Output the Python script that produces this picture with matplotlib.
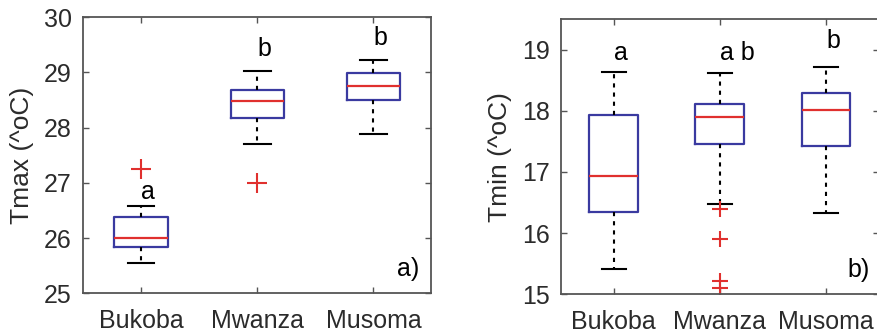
import matplotlib
matplotlib.use("Agg")
import matplotlib.pyplot as plt

plt.rcParams['font.family'] = ['Liberation Sans', 'DejaVu Sans']

stations = ["Bukoba", "Mwanza", "Musoma"]

# Tmax summary (°C): whisker low, Q1, median, Q3, whisker high
tmax_whislo = [25.54, 27.70, 27.89]
tmax_q1 = [25.84, 28.18, 28.50]
tmax_med = [26.01, 28.48, 28.76]
tmax_q3 = [26.38, 28.68, 28.99]
tmax_whishi = [26.58, 29.02, 29.22]
tmax_fliers = [[27.26], [27.00], []]
tmax_letters = ["a", "b", "b"]
tmax_letter_y = [26.70, 29.30, 29.50]

# Tmin summary (°C)
tmin_whislo = [15.42, 16.47, 16.33]
tmin_q1 = [16.34, 17.45, 17.43]
tmin_med = [16.93, 17.89, 18.01]
tmin_q3 = [17.93, 18.11, 18.29]
tmin_whishi = [18.63, 18.61, 18.72]
tmin_fliers = [[], [16.39, 15.90, 15.22, 15.11], []]
tmin_letters = ["a", "a b", "b"]
tmin_letter_y = [18.83, 18.83, 19.02]

BOX_BLUE = "#3a3aa0"
MED_RED = "#e0302e"
SPINE = "#555555"
TXT = "#2b2b2b"
FS = 18


def stats_list(lo, q1, med, q3, hi, fl):
    return [dict(whislo=a, q1=b, med=c, q3=d, whishi=e, fliers=f, label=s)
            for a, b, c, d, e, f, s in zip(lo, q1, med, q3, hi, fl, stations)]


def draw(ax, stats, ylim, yticks, ylabel, letters, letter_y, panel, panel_x, msize):
    pos = [1, 2, 3]
    ax.bxp(stats, positions=pos, widths=0.46, capwidths=0.23,
           boxprops=dict(color=BOX_BLUE, linewidth=1.6),
           medianprops=dict(color=MED_RED, linewidth=1.6),
           whiskerprops=dict(color="black", linewidth=1.5, linestyle=(0, (2.0, 2.4))),
           capprops=dict(color="black", linewidth=1.5),
           flierprops=dict(marker="+", markeredgecolor=MED_RED, markersize=msize,
                           markeredgewidth=1.5, linestyle="none"))
    ax.set_xlim(0.5, 3.5)
    ax.set_ylim(*ylim)
    ax.set_yticks(yticks)
    ax.set_xticks(pos)
    ax.set_xticklabels(stations)
    ax.set_ylabel(ylabel, fontsize=FS + 1, color=TXT, labelpad=7)
    ax.tick_params(direction="in", top=True, right=True, length=4, width=1,
                   colors=SPINE, labelcolor=TXT, labelsize=FS)
    ax.tick_params(axis="y", pad=8)
    ax.tick_params(axis="x", pad=11)
    for sp in ax.spines.values():
        sp.set_color(SPINE)
        sp.set_linewidth(1.3)
    for p, t, y in zip(pos, letters, letter_y):
        ax.text(p, y, t, ha="left", va="baseline", fontsize=FS, color="black")
    ax.text(panel_x, 0.062, panel, transform=ax.transAxes, ha="right",
            va="baseline", fontsize=FS, color="black")


fig = plt.figure(figsize=(8.77, 3.35), dpi=100)
ax1 = fig.add_axes([0.0946, 0.1245, 0.3974, 0.824])
ax2 = fig.add_axes([0.6393, 0.1215, 0.3630, 0.8218])

draw(ax1, stats_list(tmax_whislo, tmax_q1, tmax_med, tmax_q3, tmax_whishi, tmax_fliers),
     (25, 30), [25, 26, 27, 28, 29, 30], "Tmax (^oC)", tmax_letters, tmax_letter_y,
     "a)", 0.964, 14)
draw(ax2, stats_list(tmin_whislo, tmin_q1, tmin_med, tmin_q3, tmin_whishi, tmin_fliers),
     (15, 19.5), [15, 16, 17, 18, 19], "Tmin (^oC)", tmin_letters, tmin_letter_y,
     "b)", 0.972, 12)

fig.savefig("out.png", dpi=100)
